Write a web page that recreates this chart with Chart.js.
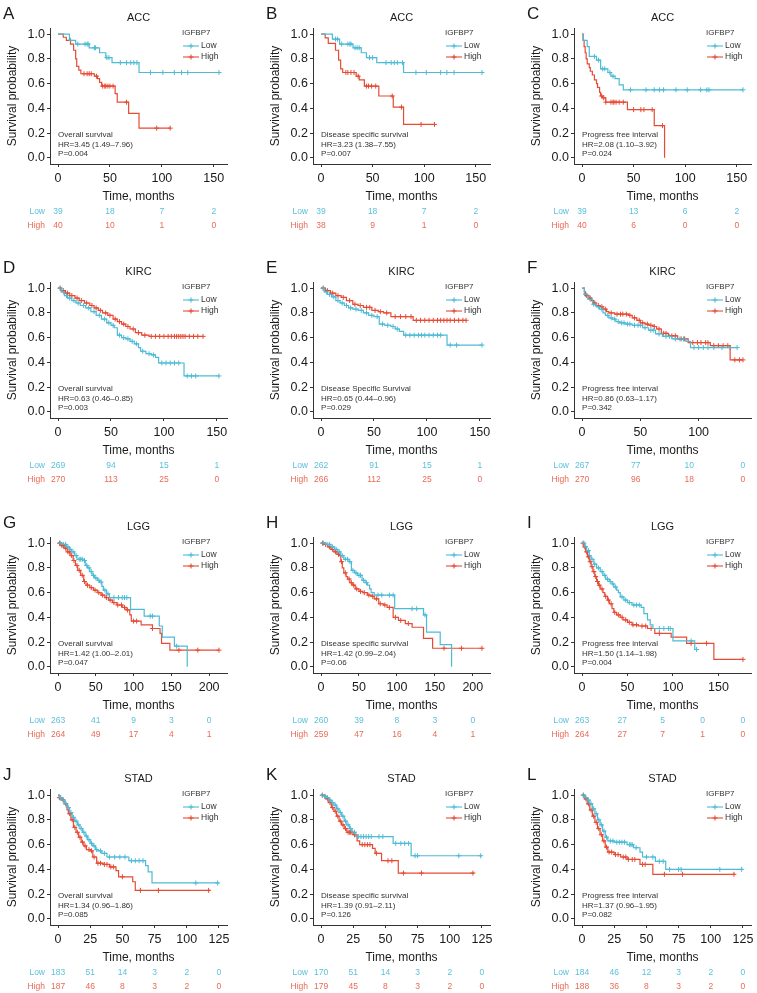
<!DOCTYPE html>
<html>
<head>
<meta charset="utf-8">
<script src="https://cdn.jsdelivr.net/npm/chart.js@4.4.1/dist/chart.umd.min.js"></script>
<style>
  html, body { margin: 0; padding: 0; background: #fff; overflow: hidden; }
  #fig { position: relative; width: 757px; height: 993px; }
  #fig canvas { position: absolute; }
</style>
</head>
<body>
<div id="fig"></div>
<script>
// Kaplan-Meier curves: step times (months), survival after each step, censor times

// A - ACC overall survival
const aLowT = [0, 11, 17, 30, 40, 46, 52, 78, 155];
const aLowS = [1, 0.95, 0.92, 0.89, 0.85, 0.81, 0.77, 0.69, 0.69];
const aLowC = [12, 19, 26, 28, 29, 35, 36, 47, 49, 60, 66, 70, 73, 76, 89, 101, 112, 119, 125, 155];
const aHighT = [0, 5, 8, 12, 15, 17, 18, 20, 22, 35, 38, 40, 42, 55, 57, 68, 78, 108];
const aHighS = [1, 0.975, 0.95, 0.92, 0.87, 0.80, 0.74, 0.71, 0.68, 0.66, 0.64, 0.61, 0.58, 0.52, 0.45, 0.36, 0.24, 0.24];
const aHighC = [25, 28, 30, 32, 37, 43, 45, 46, 48, 50, 53, 66, 95, 108];

// B - ACC disease specific survival
const bLowT = [0, 11, 18, 31, 39, 44, 54, 80, 156];
const bLowS = [1, 0.96, 0.92, 0.89, 0.85, 0.81, 0.77, 0.69, 0.69];
const bLowC = [14, 16, 20, 26, 28, 29, 33, 35, 37, 47, 50, 63, 68, 71, 74, 79, 92, 102, 116, 122, 129, 156];
const bHighT = [0, 4, 7, 14, 17, 19, 21, 34, 37, 42, 56, 70, 80, 110];
const bHighS = [1, 0.97, 0.925, 0.87, 0.79, 0.72, 0.69, 0.66, 0.63, 0.58, 0.50, 0.41, 0.27, 0.27];
const bHighC = [24, 26, 29, 32, 36, 44, 46, 49, 53, 69, 78, 97, 110];

// C - ACC progress free interval
const cLowT = [0, 1, 5, 7, 14, 18, 25, 28, 32, 36, 40, 156];
const cLowS = [1, 0.95, 0.90, 0.82, 0.79, 0.72, 0.69, 0.66, 0.64, 0.59, 0.55, 0.55];
const cLowC = [12, 16, 20, 22, 27, 30, 47, 62, 70, 75, 79, 91, 102, 115, 121, 123, 156];
const cHighT = [0, 1, 2, 3, 4, 5, 7, 8, 10, 12, 14, 15, 17, 18, 20, 23, 44, 70, 80];
const cHighS = [1, 0.95, 0.90, 0.85, 0.80, 0.76, 0.73, 0.70, 0.67, 0.63, 0.60, 0.57, 0.53, 0.50, 0.485, 0.45, 0.39, 0.26, 0];
const cHighC = [19, 21, 23, 28, 30, 31, 33, 36, 40, 50, 57, 60, 68, 78];

// D - KIRC overall survival
const dLowT = [0, 3, 6, 9, 13, 17, 21, 26, 31, 36, 41, 46, 50, 53, 56, 60, 64, 68, 72, 76, 78, 83, 88, 92, 95, 119, 152];
const dLowS = [1, 0.97, 0.94, 0.92, 0.90, 0.88, 0.86, 0.84, 0.81, 0.78, 0.75, 0.72, 0.70, 0.68, 0.62, 0.60, 0.59, 0.57, 0.55, 0.52, 0.49, 0.47, 0.46, 0.44, 0.395, 0.29, 0.29];
const dLowC = [2, 5, 8, 11, 15, 19, 24, 29, 34, 39, 44, 48, 52, 58, 62, 66, 70, 74, 80, 86, 90, 98, 102, 106, 110, 114, 122, 126, 130, 152];
const dHighT = [0, 3, 7, 11, 16, 20, 25, 30, 34, 38, 42, 47, 52, 56, 60, 64, 68, 73, 79, 86, 137];
const dHighS = [1, 0.98, 0.96, 0.94, 0.92, 0.90, 0.88, 0.86, 0.84, 0.82, 0.80, 0.78, 0.75, 0.73, 0.71, 0.69, 0.67, 0.64, 0.62, 0.61, 0.61];
const dHighC = [2, 5, 9, 13, 18, 22, 27, 32, 36, 40, 45, 49, 54, 58, 62, 66, 71, 76, 82, 88, 92, 96, 100, 104, 107, 110, 112, 114, 116, 118, 120, 124, 128, 132, 137];

// E - KIRC disease specific survival
const eLowT = [0, 3, 6, 10, 14, 18, 22, 26, 30, 35, 40, 45, 50, 55, 60, 66, 70, 74, 78, 119, 152];
const eLowS = [1, 0.97, 0.95, 0.93, 0.90, 0.88, 0.86, 0.84, 0.83, 0.82, 0.80, 0.78, 0.77, 0.71, 0.70, 0.69, 0.67, 0.65, 0.62, 0.54, 0.54];
const eLowC = [2, 5, 8, 12, 16, 20, 24, 28, 33, 38, 43, 48, 53, 58, 63, 68, 72, 80, 84, 88, 92, 95, 98, 102, 106, 110, 113, 122, 128, 152];
const eHighT = [0, 4, 9, 14, 19, 24, 30, 35, 40, 48, 54, 59, 66, 87, 137];
const eHighS = [1, 0.98, 0.96, 0.94, 0.925, 0.90, 0.87, 0.86, 0.845, 0.82, 0.81, 0.80, 0.77, 0.74, 0.74];
const eHighC = [2, 6, 11, 16, 21, 27, 32, 37, 43, 46, 51, 56, 62, 70, 75, 80, 85, 90, 94, 98, 102, 106, 110, 113, 116, 119, 122, 126, 130, 134, 137];

// F - KIRC progress free interval
const fLowT = [0, 2, 5, 9, 12, 15, 18, 20, 23, 26, 29, 32, 37, 43, 52, 57, 63, 69, 77, 89, 93, 133];
const fLowS = [1, 0.95, 0.91, 0.87, 0.85, 0.83, 0.80, 0.78, 0.76, 0.75, 0.73, 0.72, 0.71, 0.70, 0.68, 0.66, 0.63, 0.61, 0.59, 0.57, 0.52, 0.52];
const fLowC = [3, 7, 10, 14, 17, 22, 25, 28, 31, 34, 36, 39, 41, 45, 48, 50, 54, 59, 61, 66, 72, 75, 80, 84, 87, 96, 100, 104, 108, 113, 120, 127, 133];
const fHighT = [0, 2, 3, 6, 8, 10, 12, 15, 18, 21, 23, 28, 40, 43, 47, 50, 54, 57, 61, 64, 68, 74, 82, 91, 110, 127, 138];
const fHighS = [1, 0.97, 0.94, 0.92, 0.90, 0.88, 0.86, 0.85, 0.83, 0.81, 0.80, 0.79, 0.78, 0.76, 0.74, 0.72, 0.71, 0.70, 0.69, 0.67, 0.635, 0.615, 0.59, 0.56, 0.535, 0.42, 0.42];
const fHighC = [4, 7, 11, 14, 17, 20, 25, 30, 33, 35, 38, 41, 45, 49, 52, 56, 59, 62, 66, 70, 72, 77, 80, 85, 88, 95, 99, 102, 106, 108, 113, 117, 121, 125, 131, 135, 138];

// G - LGG overall survival
const gLowT = [0, 5, 11, 15, 18, 22, 25, 33, 36, 39, 42, 45, 48, 52, 55, 58, 60, 64, 68, 96, 114, 134, 138, 154, 171];
const gLowS = [1, 0.99, 0.97, 0.95, 0.93, 0.90, 0.87, 0.86, 0.82, 0.80, 0.77, 0.74, 0.72, 0.70, 0.685, 0.65, 0.62, 0.59, 0.56, 0.465, 0.41, 0.33, 0.24, 0.167, 0];
const gLowC = [3, 7, 10, 13, 16, 20, 24, 28, 30, 32, 35, 38, 41, 44, 47, 50, 54, 57, 62, 66, 74, 80, 85, 88, 91, 122, 125, 157];
const gHighT = [0, 4, 8, 12, 16, 20, 23, 26, 30, 34, 37, 42, 47, 52, 57, 62, 67, 72, 78, 85, 90, 95, 97, 110, 125, 135, 137, 148, 213];
const gHighS = [1, 0.98, 0.96, 0.93, 0.90, 0.86, 0.82, 0.78, 0.74, 0.69, 0.66, 0.64, 0.62, 0.60, 0.58, 0.56, 0.54, 0.52, 0.50, 0.48, 0.46, 0.42, 0.37, 0.34, 0.31, 0.27, 0.19, 0.135, 0.135];
const gHighC = [2, 5, 7, 10, 13, 15, 18, 21, 25, 28, 32, 35, 39, 44, 49, 54, 59, 64, 69, 74, 79, 84, 88, 92, 100, 104, 125, 160, 185, 213];

// H - LGG disease specific survival
const hLowT = [0, 6, 13, 18, 22, 26, 30, 37, 40, 44, 48, 54, 58, 61, 64, 66, 70, 97, 135, 139, 157, 172];
const hLowS = [1, 0.99, 0.97, 0.95, 0.93, 0.90, 0.87, 0.85, 0.78, 0.76, 0.74, 0.70, 0.68, 0.66, 0.63, 0.60, 0.58, 0.47, 0.42, 0.28, 0.18, 0];
const hLowC = [3, 8, 11, 15, 20, 24, 28, 32, 35, 38, 42, 46, 50, 52, 56, 60, 75, 80, 90, 95, 120, 126, 137];
const hHighT = [0, 4, 9, 13, 17, 21, 24, 26, 28, 30, 33, 35, 38, 41, 45, 50, 55, 61, 66, 70, 76, 82, 87, 95, 102, 111, 120, 135, 147, 212];
const hHighS = [1, 0.99, 0.97, 0.95, 0.93, 0.91, 0.90, 0.85, 0.80, 0.76, 0.73, 0.71, 0.68, 0.66, 0.63, 0.61, 0.60, 0.58, 0.57, 0.55, 0.51, 0.50, 0.48, 0.40, 0.375, 0.35, 0.32, 0.23, 0.15, 0.15];
const hHighC = [2, 6, 11, 15, 19, 23, 27, 32, 37, 40, 43, 47, 52, 57, 63, 68, 73, 78, 84, 90, 98, 105, 115, 162, 185, 212];

// I - LGG progress free interval
const iLowT = [0, 3, 5, 8, 10, 13, 16, 20, 23, 26, 30, 33, 35, 38, 40, 42, 46, 50, 55, 65, 68, 72, 75, 78, 100, 124, 127];
const iLowS = [1, 0.97, 0.94, 0.90, 0.87, 0.83, 0.80, 0.77, 0.74, 0.71, 0.69, 0.67, 0.645, 0.62, 0.60, 0.565, 0.54, 0.52, 0.50, 0.48, 0.43, 0.38, 0.34, 0.31, 0.21, 0.14, 0.14];
const iLowC = [2, 4, 7, 11, 14, 18, 22, 25, 28, 31, 34, 37, 44, 48, 52, 57, 60, 63, 85, 90, 95, 97, 120, 126];
const iHighT = [0, 2, 4, 6, 8, 10, 12, 14, 16, 18, 20, 23, 25, 28, 30, 33, 35, 38, 42, 45, 50, 55, 62, 72, 80, 98, 115, 145, 177];
const iHighS = [1, 0.97, 0.93, 0.89, 0.85, 0.81, 0.77, 0.73, 0.69, 0.66, 0.63, 0.60, 0.57, 0.54, 0.51, 0.47, 0.44, 0.42, 0.40, 0.38, 0.36, 0.34, 0.33, 0.31, 0.27, 0.24, 0.19, 0.06, 0.06];
const iHighC = [1, 3, 5, 7, 9, 11, 13, 15, 17, 19, 22, 26, 29, 32, 36, 40, 44, 48, 52, 56, 60, 66, 70, 76, 85, 120, 137, 177];

// J - STAD overall survival
const jLowT = [0, 1, 3, 5, 7, 9, 11, 13, 15, 17, 19, 21, 23, 25, 27, 29, 31, 34, 38, 55, 68, 70, 73, 125];
const jLowS = [1, 0.98, 0.96, 0.93, 0.90, 0.86, 0.82, 0.79, 0.76, 0.73, 0.70, 0.67, 0.64, 0.61, 0.59, 0.56, 0.55, 0.53, 0.50, 0.47, 0.43, 0.38, 0.29, 0.29];
const jLowC = [2, 4, 6, 8, 10, 12, 14, 16, 18, 20, 22, 24, 26, 28, 30, 33, 36, 40, 44, 48, 52, 57, 60, 63, 66, 107, 124];
const jHighT = [0, 1, 3, 5, 7, 8, 10, 12, 14, 16, 18, 20, 22, 25, 27, 30, 35, 40, 45, 47, 58, 60, 118];
const jHighS = [1, 0.98, 0.96, 0.93, 0.88, 0.85, 0.80, 0.74, 0.70, 0.66, 0.62, 0.59, 0.56, 0.55, 0.50, 0.45, 0.44, 0.42, 0.39, 0.34, 0.30, 0.23, 0.23];
const jHighC = [1, 2, 4, 6, 9, 11, 13, 15, 17, 19, 21, 24, 26, 28, 31, 33, 36, 38, 41, 43, 50, 64, 78, 117];

// K - STAD disease specific survival
const kLowT = [0, 2, 4, 6, 8, 10, 12, 14, 16, 18, 20, 22, 24, 27, 56, 70, 125];
const kLowS = [1, 0.99, 0.98, 0.96, 0.94, 0.92, 0.89, 0.86, 0.83, 0.79, 0.76, 0.73, 0.70, 0.665, 0.61, 0.51, 0.51];
const kLowC = [1, 3, 5, 7, 9, 11, 13, 15, 17, 19, 21, 23, 26, 29, 31, 33, 35, 37, 39, 45, 48, 58, 62, 65, 68, 73, 75, 107, 124];
const kHighT = [0, 2, 4, 6, 8, 10, 12, 14, 16, 18, 20, 25, 28, 30, 40, 42, 47, 60, 119];
const kHighS = [1, 0.99, 0.97, 0.94, 0.90, 0.87, 0.83, 0.79, 0.76, 0.73, 0.70, 0.68, 0.63, 0.60, 0.57, 0.53, 0.47, 0.37, 0.37];
const kHighC = [1, 3, 5, 7, 9, 11, 13, 15, 17, 19, 21, 22, 23, 24, 26, 32, 34, 36, 38, 43, 52, 55, 64, 78, 118];

// L - STAD progress free interval
const lLowT = [0, 2, 4, 6, 8, 10, 12, 14, 16, 18, 20, 25, 35, 40, 45, 47, 57, 65, 125];
const lLowS = [1, 0.98, 0.96, 0.93, 0.89, 0.85, 0.80, 0.76, 0.71, 0.66, 0.63, 0.62, 0.60, 0.575, 0.54, 0.50, 0.465, 0.40, 0.40];
const lLowC = [1, 3, 5, 7, 9, 11, 13, 15, 17, 19, 22, 24, 27, 29, 31, 33, 37, 38, 39, 42, 50, 55, 60, 63, 68, 75, 77, 107, 124];
const lHighT = [0, 2, 4, 6, 8, 10, 12, 14, 16, 18, 20, 25, 30, 35, 45, 55, 119];
const lHighS = [1, 0.97, 0.93, 0.88, 0.83, 0.78, 0.73, 0.68, 0.63, 0.58, 0.54, 0.52, 0.50, 0.48, 0.44, 0.36, 0.36];
const lHighC = [1, 3, 5, 7, 9, 11, 13, 15, 17, 19, 21, 23, 26, 28, 32, 34, 36, 39, 41, 47, 49, 64, 78, 118];

// numbers at risk
const riskLow = [
  [39, 18, 7, 2], [39, 18, 7, 2], [39, 13, 6, 2],
  [269, 94, 15, 1], [262, 91, 15, 1], [267, 77, 10, 0],
  [263, 41, 9, 3, 0], [260, 39, 8, 3, 0], [263, 27, 5, 0, 0],
  [183, 51, 14, 3, 2, 0], [170, 51, 14, 3, 2, 0], [184, 46, 12, 3, 2, 0]
];
const riskHigh = [
  [40, 10, 1, 0], [38, 9, 1, 0], [40, 6, 0, 0],
  [270, 113, 25, 0], [266, 112, 25, 0], [270, 96, 18, 0],
  [264, 49, 17, 4, 1], [259, 47, 16, 4, 1], [264, 27, 7, 1, 0],
  [187, 46, 8, 3, 2, 0], [179, 45, 8, 3, 2, 0], [188, 36, 8, 3, 2, 0]
];
const riskTimes = [
  [0, 50, 100, 150], [0, 50, 100, 150], [0, 50, 100, 150],
  [0, 50, 100, 150], [0, 50, 100, 150], [0, 50, 100, 150],
  [0, 50, 100, 150, 200], [0, 50, 100, 150, 200], [0, 50, 100, 150, 200],
  [0, 25, 50, 75, 100, 125], [0, 25, 50, 75, 100, 125], [0, 25, 50, 75, 100, 125]
];
const xTicks = [
  [0, 50, 100, 150], [0, 50, 100, 150], [0, 50, 100, 150],
  [0, 50, 100, 150], [0, 50, 100, 150], [0, 50, 100],
  [0, 50, 100, 150, 200], [0, 50, 100, 150, 200], [0, 50, 100, 150],
  [0, 25, 50, 75, 100, 125], [0, 25, 50, 75, 100, 125], [0, 25, 50, 75, 100, 125]
];
const yTicks = [0, 0.2, 0.4, 0.6, 0.8, 1.0];

const panelLetters = ["A", "B", "C", "D", "E", "F", "G", "H", "I", "J", "K", "L"];
const cancerTypes = ["ACC", "ACC", "ACC", "KIRC", "KIRC", "KIRC", "LGG", "LGG", "LGG", "STAD", "STAD", "STAD"];
const endpoints = [
  "Overall survival", "Disease specific survival", "Progress free interval",
  "Overall survival", "Disease Specific Survival", "Progress free interval",
  "Overall survival", "Disease specific survival", "Progress free interval",
  "Overall survival", "Disease specific survival", "Progress free interval"
];
const hrLabels = [
  "HR=3.45 (1.49\u20137.96)", "HR=3.23 (1.38\u20137.55)", "HR=2.08 (1.10\u20133.92)",
  "HR=0.63 (0.46\u20130.85)", "HR=0.65 (0.44\u20130.96)", "HR=0.86 (0.63\u20131.17)",
  "HR=1.42 (1.00\u20132.01)", "HR=1.42 (0.99\u20132.04)", "HR=1.50 (1.14\u20131.98)",
  "HR=1.34 (0.96\u20131.86)", "HR=1.39 (0.91\u20132.11)", "HR=1.37 (0.96\u20131.95)"
];
const pLabels = ["P=0.004", "P=0.007", "P=0.024", "P=0.003", "P=0.029", "P=0.342",
  "P=0.047", "P=0.06", "P=0.004", "P=0.085", "P=0.126", "P=0.082"];

const lowT = [aLowT, bLowT, cLowT, dLowT, eLowT, fLowT, gLowT, hLowT, iLowT, jLowT, kLowT, lLowT];
const lowS = [aLowS, bLowS, cLowS, dLowS, eLowS, fLowS, gLowS, hLowS, iLowS, jLowS, kLowS, lLowS];
const lowC = [aLowC, bLowC, cLowC, dLowC, eLowC, fLowC, gLowC, hLowC, iLowC, jLowC, kLowC, lLowC];
const highT = [aHighT, bHighT, cHighT, dHighT, eHighT, fHighT, gHighT, hHighT, iHighT, jHighT, kHighT, lHighT];
const highS = [aHighS, bHighS, cHighS, dHighS, eHighS, fHighS, gHighS, hHighS, iHighS, jHighS, kHighS, lHighS];
const highC = [aHighC, bHighC, cHighC, dHighC, eHighC, fHighC, gHighC, hHighC, iHighC, jHighC, kHighC, lHighC];

// styles
const FONT = '"Liberation Sans", Arial, sans-serif';
const INK = "#1a1a1a";
const AXIS = "#333333";
const LOW_COL = "#4DBBD5";
const HIGH_COL = "#E64B35";
const LOW_TXT = "#5CC0DA";
const HIGH_TXT = "#EA6A57";
const W = 240, H = 245;
const colX = [0, 263, 524];
const rowY = [0, 254, 509, 761];

function survAt(T, S, t) {
  let s = S[0];
  for (let k = 0; k < T.length; k++) if (T[k] <= t) s = S[k];
  return s;
}

function curve(T, S) {
  return T.map((t, k) => ({ x: t, y: S[k] }));
}

function censors(T, S, C) {
  return C.map(t => ({ x: t, y: survAt(T, S, t) }));
}

function plusMark(ctx, x, y, r) {
  ctx.beginPath();
  ctx.moveTo(x - r, y); ctx.lineTo(x + r, y);
  ctx.moveTo(x, y - r); ctx.lineTo(x, y + r);
  ctx.stroke();
}

const decor = {
  id: "decor",
  afterDraw(chart) {
    const i = chart.options.panelIndex;
    const ctx = chart.ctx, a = chart.chartArea, xs = chart.scales.x;
    const midX = (a.left + a.right) / 2;
    ctx.save();
    ctx.textBaseline = "middle";
    ctx.fillStyle = INK;

    ctx.font = "17px " + FONT;
    ctx.textAlign = "left";
    ctx.fillText(panelLetters[i], 3, 14);

    ctx.font = "11px " + FONT;
    ctx.textAlign = "center";
    ctx.fillText(cancerTypes[i], midX, 18);

    ctx.font = "12px " + FONT;
    ctx.fillText("Time, months", midX, 197);
    ctx.save();
    ctx.translate(13, (a.top + a.bottom) / 2);
    ctx.rotate(-Math.PI / 2);
    ctx.fillText("Survival probability", 0, 0);
    ctx.restore();

    // test statistics
    ctx.font = "8px " + FONT;
    ctx.textAlign = "left";
    ctx.fillStyle = "#333";
    const ax = xs.getPixelForValue(0);
    [endpoints[i], hrLabels[i], pLabels[i]].forEach((s, k) => {
      ctx.fillText(s, ax, a.bottom - 29 + k * 9.5);
    });

    // legend
    ctx.fillText("IGFBP7", 182, 33);
    ctx.font = "8.5px " + FONT;
    ctx.lineWidth = 1.1;
    [["Low", LOW_COL, 46], ["High", HIGH_COL, 57]].forEach(([lab, col, y]) => {
      ctx.strokeStyle = col;
      ctx.beginPath(); ctx.moveTo(183, y); ctx.lineTo(199, y); ctx.stroke();
      plusMark(ctx, 191, y, 2.5);
      ctx.fillStyle = "#333";
      ctx.fillText(lab, 201, y);
    });

    // numbers at risk
    const rt = riskTimes[i];
    const span = Math.max(rt[rt.length - 1], chart.options.dataMax);
    const rx = t => a.left + (t + 0.05 * span) / (1.1 * span) * (a.right - a.left);
    ctx.font = "8.5px " + FONT;
    ctx.textAlign = "right";
    ctx.fillStyle = LOW_TXT;
    ctx.fillText("Low", 45, 212);
    ctx.fillStyle = HIGH_TXT;
    ctx.fillText("High", 45, 226);
    ctx.textAlign = "center";
    rt.forEach((t, k) => {
      ctx.fillStyle = LOW_TXT;
      ctx.fillText(String(riskLow[i][k]), rx(t), 212);
      ctx.fillStyle = HIGH_TXT;
      ctx.fillText(String(riskHigh[i][k]), rx(t), 226);
    });
    ctx.restore();
  }
};

const fig = document.getElementById("fig");

function makePanel(i) {
  const cv = document.createElement("canvas");
  cv.width = W; cv.height = H;
  cv.style.left = colX[i % 3] + "px";
  cv.style.top = rowY[Math.floor(i / 3)] + "px";
  fig.appendChild(cv);

  const dataMax = Math.max(lowT[i][lowT[i].length - 1], highT[i][highT[i].length - 1]);
  const tickFont = { family: FONT, size: 12.5 };

  const stepLine = (T, S, col) => ({
    data: curve(T, S), stepped: true, borderColor: col, borderWidth: 1.2,
    pointRadius: 0, fill: false
  });
  const marks = (T, S, C, col) => ({
    data: censors(T, S, C), showLine: false, borderColor: col, backgroundColor: col,
    pointStyle: "cross", pointRadius: 2.5, pointBorderWidth: 1, pointHoverRadius: 0
  });

  new Chart(cv, {
    type: "line",
    data: {
      datasets: [
        stepLine(lowT[i], lowS[i], LOW_COL),
        stepLine(highT[i], highS[i], HIGH_COL),
        marks(lowT[i], lowS[i], lowC[i], LOW_COL),
        marks(highT[i], highS[i], highC[i], HIGH_COL)
      ]
    },
    options: {
      panelIndex: i,
      dataMax: dataMax,
      responsive: false,
      animation: false,
      devicePixelRatio: 1,
      events: [],
      layout: { padding: { left: 0, top: 28, right: W - 227, bottom: H - 164 - 20 } },
      plugins: { legend: { display: false }, tooltip: { enabled: false } },
      scales: {
        x: {
          type: "linear",
          min: -0.05 * dataMax,
          max: 1.05 * dataMax,
          afterBuildTicks: s => { s.ticks = xTicks[i].map(v => ({ value: v })); },
          afterFit: s => { s.height = 20; s.paddingLeft = 0; s.paddingRight = 0; },
          grid: { drawOnChartArea: false, drawTicks: true, tickLength: 3, color: AXIS, tickColor: AXIS },
          border: { display: true, color: AXIS, width: 1 },
          ticks: { color: INK, font: tickFont, padding: 4, maxRotation: 0, autoSkip: false, callback: v => String(v) }
        },
        y: {
          type: "linear",
          min: -0.05,
          max: 1.05,
          afterBuildTicks: s => { s.ticks = yTicks.map(v => ({ value: v })); },
          afterFit: s => { s.width = 50; s.paddingTop = 0; s.paddingBottom = 0; },
          grid: { drawOnChartArea: false, drawTicks: true, tickLength: 3, color: AXIS, tickColor: AXIS },
          border: { display: true, color: AXIS, width: 1 },
          ticks: { color: INK, font: tickFont, padding: 2, callback: v => v.toFixed(1) }
        }
      }
    },
    plugins: [decor]
  });
}

for (let i = 0; i < 12; i++) makePanel(i);
</script>
</body>
</html>
